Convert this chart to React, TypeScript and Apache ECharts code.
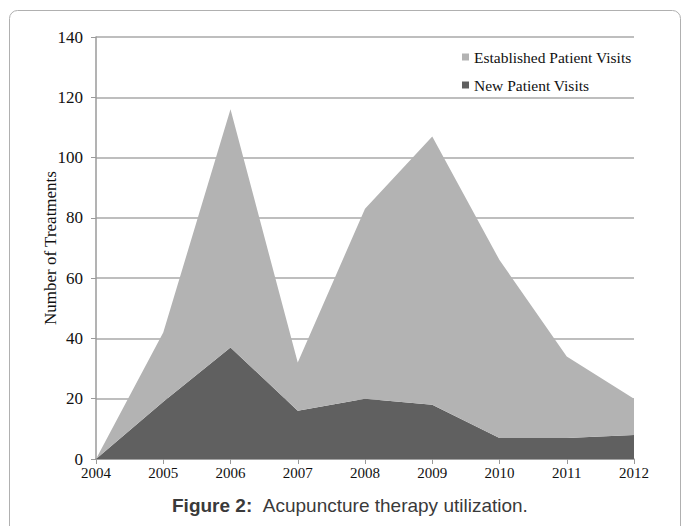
import React, { useEffect, useRef } from "react";
import * as echarts from "echarts";

const years = ["2004", "2005", "2006", "2007", "2008", "2009", "2010", "2011", "2012"];
const newVisits = [0, 19, 37, 16, 20, 18, 7, 7, 8];
const totalVisits = [0, 42, 116, 32, 83, 107, 66, 34, 20];
const establishedVisits = totalVisits.map((t, i) => t - newVisits[i]);
const yTicks = { min: 0, max: 140, interval: 20 };

const serif = "'Liberation Serif', 'Times New Roman', serif";
const sans = "'Liberation Sans', Arial, sans-serif";

export default function App() {
  const ref = useRef<HTMLDivElement>(null);
  useEffect(() => {
    if (!ref.current) return;
    const chart = echarts.init(ref.current, null, { renderer: "svg" });
    chart.setOption({
      animation: false,
      backgroundColor: "#ffffff",
      grid: { left: 96, right: 49, top: 37, bottom: 67 },
      legend: {
        orient: "vertical",
        left: 457,
        top: 44,
        itemWidth: 7,
        itemHeight: 7,
        itemGap: 12,
        icon: "rect",
        data: ["Established Patient Visits", "New Patient Visits"],
        textStyle: { fontFamily: serif, fontSize: 15.5, color: "#111" },
      },
      xAxis: {
        type: "category",
        data: years,
        boundaryGap: false,
        axisLine: { lineStyle: { color: "#9a9a9a", width: 1.5 } },
        axisTick: { show: true, length: 5, lineStyle: { color: "#9a9a9a" } },
        axisLabel: { margin: 6, fontFamily: serif, fontSize: 15, color: "#111" },
      },
      yAxis: {
        type: "value",
        min: yTicks.min,
        max: yTicks.max,
        interval: yTicks.interval,
        name: "Number of Treatments",
        nameLocation: "middle",
        nameGap: 37,
        nameMoveOverlap: false,
        nameTextStyle: { fontFamily: serif, fontSize: 17, color: "#111" },
        axisLine: { show: true, lineStyle: { color: "#9a9a9a", width: 1.5 } },
        axisTick: { show: true, length: 5, lineStyle: { color: "#9a9a9a" } },
        axisLabel: { margin: 13, fontFamily: serif, fontSize: 17, color: "#111" },
        splitLine: { lineStyle: { color: "#a8a8a8", width: 1.5 } },
      },
      series: [
        {
          name: "New Patient Visits",
          type: "line",
          stack: "total",
          data: newVisits,
          symbol: "none",
          lineStyle: { width: 0 },
          itemStyle: { color: "#606060" },
          areaStyle: { color: "#606060", opacity: 1 },
        },
        {
          name: "Established Patient Visits",
          type: "line",
          stack: "total",
          data: establishedVisits,
          symbol: "none",
          lineStyle: { width: 0 },
          itemStyle: { color: "#b3b3b3" },
          areaStyle: { color: "#b3b3b3", opacity: 1 },
        },
      ],
      graphic: [
        {
          type: "rect",
          silent: true,
          shape: { x: 9.5, y: 10.5, width: 671, height: 560, r: 8 },
          style: { fill: "none", stroke: "#b0b0b0", lineWidth: 1 },
        },
        {
          type: "text",
          left: 172,
          top: 496,
          style: {
            text: "{b|Figure 2:}  {n|Acupuncture therapy utilization.}",
            rich: {
              b: { fontFamily: sans, fontSize: 19, fontWeight: "bold", fill: "#3a3a3a" },
              n: { fontFamily: sans, fontSize: 19, fill: "#3a3a3a" },
            },
            font: `19px ${sans}`,
          },
        },
      ],
    });
    return () => chart.dispose();
  }, []);
  return (
    <div
      ref={ref}
      style={{ position: "fixed", left: 0, top: 0, width: 683, height: 526 }}
    />
  );
}
